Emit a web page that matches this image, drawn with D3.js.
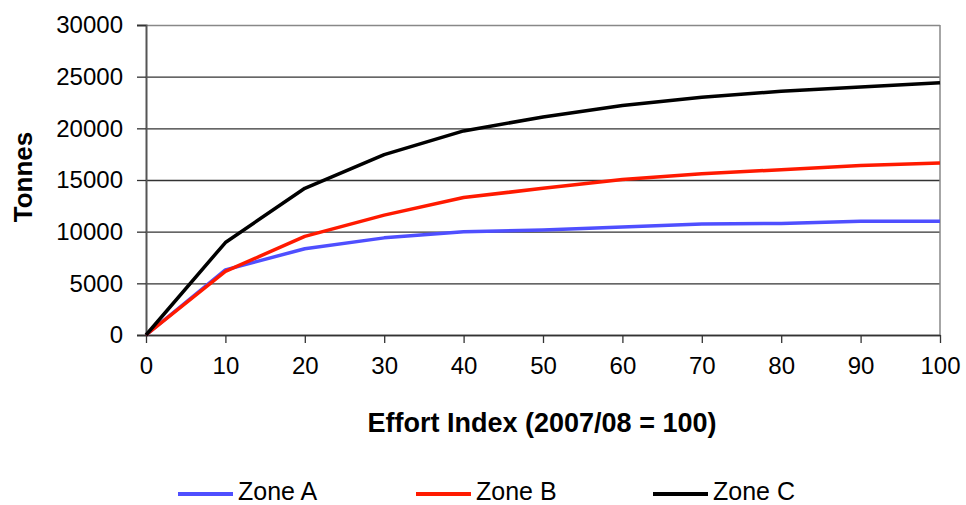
<!DOCTYPE html>
<html>
<head>
<meta charset="utf-8">
<script src="https://cdn.jsdelivr.net/npm/d3@7"></script>
<style>
  body { margin: 0; background: #fff; }
  svg { display: block; font-family: "Liberation Sans", Arial, sans-serif; }
</style>
</head>
<body>
<svg id="chart" width="966" height="505"></svg>
<script>
// effort index on the x axis
const effort = [0, 10, 20, 30, 40, 50, 60, 70, 80, 90, 100];
// tonnes
const zoneA = [0, 6300, 8350, 9400, 10000, 10150, 10450, 10750, 10800, 11000, 11000];
const zoneB = [0, 6150, 9550, 11600, 13300, 14200, 15050, 15600, 16000, 16400, 16650];
const zoneC = [0, 8950, 14200, 17450, 19750, 21100, 22200, 23000, 23600, 24000, 24400];
const yTicks = [0, 5000, 10000, 15000, 20000, 25000, 30000];
const seriesNames = ['Zone A', 'Zone B', 'Zone C'];
const seriesColors = ['#4f4fff', '#ff1a00', '#000000'];

const svg = d3.select('#chart');
const margin = {top: 25, right: 26, bottom: 170, left: 146};
const width = 966 - margin.left - margin.right;
const height = 505 - margin.top - margin.bottom;

const x = d3.scaleLinear().domain([0, 100]).range([0, width]);
const y = d3.scaleLinear().domain([0, 30000]).range([height, 0]);

const g = svg.append('g').attr('transform', `translate(${margin.left},${margin.top})`);

// horizontal grid lines
g.append('g')
  .attr('class', 'grid')
  .call(d3.axisLeft(y).tickValues(yTicks).tickSize(-width).tickFormat(''))
  .call(s => s.select('.domain').remove())
  .call(s => s.selectAll('line').attr('stroke', '#333').attr('stroke-width', 1.3))
  .call(s => s.selectAll('line').filter(d => d === 30000).attr('stroke', '#888'));

// right border of the plot area
g.append('line')
  .attr('x1', width).attr('x2', width)
  .attr('y1', 0).attr('y2', height)
  .attr('stroke', '#888').attr('stroke-width', 1.5);

// y axis
g.append('g')
  .call(d3.axisLeft(y).tickValues(yTicks).tickSize(9).tickPadding(14).tickFormat(d3.format('d')))
  .call(s => s.select('.domain').attr('stroke', '#555').attr('stroke-width', 2))
  .call(s => s.selectAll('.tick line').attr('stroke', '#333').attr('stroke-width', 1.3))
  .call(s => s.selectAll('text').attr('font-size', 24).attr('fill', '#000').attr('font-family', '"Liberation Sans", Arial, sans-serif'));

// x axis
g.append('g')
  .attr('transform', `translate(0,${height})`)
  .call(d3.axisBottom(x).tickValues(effort).tickSize(8).tickPadding(14).tickSizeOuter(0))
  .call(s => s.select('.domain').attr('stroke', '#333').attr('stroke-width', 1.5))
  .call(s => s.selectAll('.tick line').attr('stroke', '#333').attr('stroke-width', 1.3))
  .call(s => s.selectAll('text').attr('font-size', 24).attr('fill', '#000').attr('font-family', '"Liberation Sans", Arial, sans-serif'));

// lines
const series = [zoneA, zoneB, zoneC];
const line = d3.line()
  .x((d, i) => x(effort[i]))
  .y(d => y(d));

series.forEach((vals, i) => {
  g.append('path')
    .datum(vals)
    .attr('d', line)
    .attr('fill', 'none')
    .attr('stroke', seriesColors[i])
    .attr('stroke-width', 3.5)
    .attr('stroke-linejoin', 'round');
});

// axis titles
svg.append('text')
  .attr('x', 542).attr('y', 432)
  .attr('text-anchor', 'middle')
  .attr('font-size', 27).attr('font-weight', 'bold')
  .text('Effort Index (2007/08 = 100)');

svg.append('text')
  .attr('transform', 'translate(32,177) rotate(-90)')
  .attr('text-anchor', 'middle')
  .attr('font-size', 26).attr('font-weight', 'bold')
  .text('Tonnes');

// legend
const legendX = [178, 416, 653];
const legend = svg.append('g');
seriesNames.forEach((name, i) => {
  legend.append('line')
    .attr('x1', legendX[i]).attr('x2', legendX[i] + 55)
    .attr('y1', 494).attr('y2', 494)
    .attr('stroke', seriesColors[i]).attr('stroke-width', 4);
  legend.append('text')
    .attr('x', legendX[i] + 60).attr('y', 500)
    .attr('font-size', 25)
    .text(name);
});
</script>
</body>
</html>
